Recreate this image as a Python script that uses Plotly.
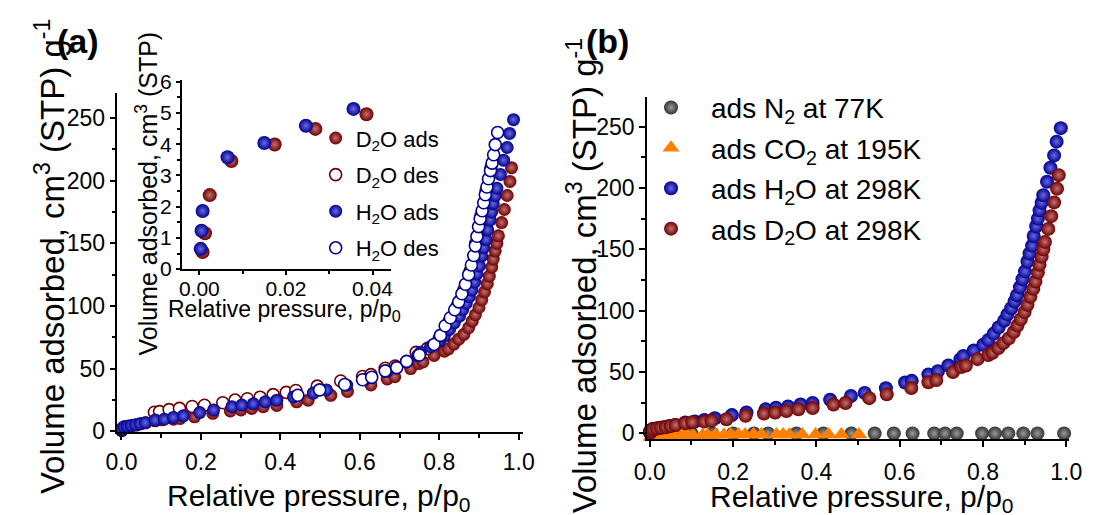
import plotly.graph_objects as go

FONT = "Liberation Sans, Arial, sans-serif"

# ---------------- data ----------------
h2o_ads_x = [0.0003, 0.0005, 0.00075, 0.0065, 0.015, 0.0246, 0.0356, 0.047, 0.06, 0.085, 0.108, 0.131,
             0.156, 0.197, 0.232, 0.278, 0.303, 0.332, 0.362, 0.391, 0.433, 0.483, 0.516, 0.567, 0.613,
             0.629, 0.669, 0.692, 0.717, 0.746, 0.753, 0.778, 0.801, 0.813, 0.826, 0.838, 0.851, 0.859,
             0.868, 0.876, 0.882, 0.889, 0.895, 0.901, 0.907, 0.912, 0.918, 0.922, 0.928, 0.932, 0.936,
             0.941, 0.945, 0.954, 0.962, 0.971, 0.977, 0.987]
h2o_ads_y = [0.65, 1.23, 1.86, 3.58, 4.04, 4.59, 5.13, 6.0, 6.8, 8.9, 9.6, 11.0,
             12.3, 14.9, 17.0, 19.6, 20.9, 21.9, 23.5, 24.8, 27.4, 30.5, 33.0, 36.8, 41.4,
             42.8, 48.0, 50.6, 55.3, 60.5, 63.0, 67.5, 72.2, 76.0, 81.3, 86.5, 91.8, 97.0,
             102.0, 107.4, 112.6, 119.0, 125.6, 132.0, 140.0, 146.5, 153.0, 160.8, 168.7, 175.0, 181.7,
             188.0, 194.0, 205.0, 216.4, 226.5, 237.7, 248.7]

d2o_ads_x = [0.00075, 0.0013, 0.0024, 0.0074, 0.0174, 0.0268, 0.0386, 0.05, 0.062, 0.085, 0.102, 0.131,
             0.148, 0.184, 0.23, 0.274, 0.301, 0.328, 0.357, 0.391, 0.441, 0.47, 0.527, 0.569, 0.628,
             0.669, 0.688, 0.728, 0.748, 0.759, 0.787, 0.813, 0.823, 0.837, 0.849, 0.862, 0.874, 0.883,
             0.891, 0.9, 0.907, 0.914, 0.921, 0.926, 0.932, 0.936, 0.941, 0.945, 0.949, 0.957, 0.964,
             0.971, 0.978, 0.982]
d2o_ads_y = [0.55, 1.15, 2.37, 3.46, 3.99, 4.49, 4.96, 6.0, 6.8, 8.3, 9.1, 9.6,
             10.2, 11.5, 14.3, 16.2, 17.0, 18.2, 19.6, 20.6, 23.5, 24.8, 28.7, 31.8, 37.0,
             41.7, 43.5, 50.0, 54.0, 55.3, 60.5, 63.9, 65.7, 69.6, 73.5, 77.4, 82.6, 87.9,
             93.0, 98.8, 104.8, 111.3, 117.8, 123.8, 131.0, 137.4, 144.0, 150.0, 156.0, 166.6, 177.0,
             188.2, 199.4, 210.4]

h2o_des_x = [0.444, 0.499, 0.562, 0.607, 0.63, 0.664, 0.693, 0.718, 0.75, 0.787, 0.803, 0.815, 0.828,
             0.839, 0.849, 0.857, 0.866, 0.874, 0.881, 0.887, 0.891, 0.895, 0.899, 0.903, 0.908, 0.912,
             0.916, 0.920, 0.924, 0.929, 0.933, 0.937, 0.941, 0.947]
h2o_des_y = [28.7, 33.0, 37.3, 41.1, 43.1, 48.2, 50.8, 55.8, 60.9, 69.3, 76.5, 84.2, 90.6,
             97.0, 103.3, 109.7, 117.3, 125.0, 132.7, 140.3, 148.0, 155.6, 163.3, 169.6, 176.0, 182.4,
             188.8, 195.0, 201.5, 208.0, 214.0, 220.7, 228.8, 238.5]

d2o_des_x = [0.083, 0.096, 0.12, 0.146, 0.178, 0.209, 0.255, 0.286, 0.317, 0.349, 0.382, 0.415, 0.439,
             0.493, 0.552, 0.607, 0.628, 0.664, 0.689, 0.742, 0.77, 0.80, 0.825, 0.845, 0.862, 0.878,
             0.892, 0.905, 0.918, 0.93]
d2o_des_y = [15.2, 15.7, 17.3, 18.3, 19.8, 20.8, 22.8, 24.9, 25.9, 27.2, 29.2, 31.0, 32.5,
             36.0, 40.1, 43.7, 45.2, 50.3, 52.0, 63.0, 66.0, 74.0, 88.0, 100.0, 113.0, 128.0,
             150.0, 172.0, 192.0, 210.0]

n2_x = [0.02, 0.05, 0.1, 0.15, 0.2, 0.25, 0.284, 0.352, 0.417, 0.484, 0.540, 0.586, 0.631, 0.683,
        0.709, 0.737, 0.798, 0.829, 0.861, 0.897, 0.931, 0.995]
n2_y = [0.0, 0.0, 0.0, 0.0, 0.0, 0.0, 0.0, 0.0, 0.0, 0.0, 0.0, 0.0, 0.0, 0.0,
        0.0, 0.0, 0.0, 0.0, 0.0, 0.0, 0.0, 0.0]

co2_x = [0.003, 0.01, 0.02, 0.03, 0.04, 0.05, 0.06, 0.07, 0.08, 0.09, 0.104, 0.127, 0.139, 0.158,
         0.178, 0.194, 0.213, 0.229, 0.249, 0.268, 0.304, 0.32, 0.335, 0.366, 0.398, 0.429, 0.46, 0.502]
co2_y = [-3.0, -2.8, -2.6, -2.4, -2.2, -2.0, -1.9, -1.8, -1.7, -1.6, -1.5, -1.4, -1.3, -1.2,
         -1.1, -1.0, -1.0, -1.0, -1.0, -1.0, -1.0, -1.0, -1.0, -1.0, -1.0, -1.0, -1.0, -1.0]

names_a = ["D<sub>2</sub>O ads", "D<sub>2</sub>O des", "H<sub>2</sub>O ads", "H<sub>2</sub>O des"]
names_b = ["ads N<sub>2</sub> at 77K", "ads CO<sub>2</sub> at 195K",
           "ads H<sub>2</sub>O at 298K", "ads D<sub>2</sub>O at 298K"]

RED, RED_HL = "#700000", "#c07070"
BLUE, BLUE_HL = "#000090", "#6a6ae0"
GRAY, GRAY_HL = "#333333", "#9a9a9a"
ORANGE = "#ff8000"


def ball(color, hl, size):
    return dict(symbol="circle", size=size, color=color,
                gradient=dict(type="radial", color=hl), line=dict(width=0))


def ring(color, size):
    return dict(symbol="circle", size=size, color="white", line=dict(width=1.6, color=color))


fig = go.Figure()

# ---------- panel (a) main ----------
fig.add_trace(go.Scatter(x=d2o_ads_x, y=d2o_ads_y, mode="markers", name=names_a[0],
                         marker=ball(RED, RED_HL, 13), xaxis="x", yaxis="y",
                         legend="legend", legendgroup="a1", cliponaxis=False))
fig.add_trace(go.Scatter(x=d2o_des_x, y=d2o_des_y, mode="markers", name=names_a[1],
                         marker=ring(RED, 12), xaxis="x", yaxis="y",
                         legend="legend", legendgroup="a2", cliponaxis=False))
fig.add_trace(go.Scatter(x=h2o_ads_x, y=h2o_ads_y, mode="markers", name=names_a[2],
                         marker=ball(BLUE, BLUE_HL, 13), xaxis="x", yaxis="y",
                         legend="legend", legendgroup="a3", cliponaxis=False))
fig.add_trace(go.Scatter(x=h2o_des_x, y=h2o_des_y, mode="markers", name=names_a[3],
                         marker=ring(BLUE, 12), xaxis="x", yaxis="y",
                         legend="legend", legendgroup="a4", cliponaxis=False))

# ---------- panel (a) inset ----------
fig.add_trace(go.Scatter(x=d2o_ads_x, y=d2o_ads_y, mode="markers", showlegend=False,
                         marker=ball(RED, RED_HL, 14), xaxis="x3", yaxis="y3", cliponaxis=True))
fig.add_trace(go.Scatter(x=h2o_ads_x, y=h2o_ads_y, mode="markers", showlegend=False,
                         marker=ball(BLUE, BLUE_HL, 14), xaxis="x3", yaxis="y3", cliponaxis=True))

# ---------- panel (b) ----------
fig.add_trace(go.Scatter(x=n2_x, y=n2_y, mode="markers", name=names_b[0],
                         marker=ball(GRAY, GRAY_HL, 14), xaxis="x2", yaxis="y2",
                         legend="legend2", legendgroup="b1", cliponaxis=False))
fig.add_trace(go.Scatter(x=co2_x, y=co2_y, mode="markers", name=names_b[1],
                         marker=dict(symbol="triangle-up", size=15, color=ORANGE, line=dict(width=0)),
                         xaxis="x2", yaxis="y2", legend="legend2", legendgroup="b2", cliponaxis=False))
fig.add_trace(go.Scatter(x=h2o_ads_x, y=h2o_ads_y, mode="markers", name=names_b[2],
                         marker=ball(BLUE, BLUE_HL, 14), xaxis="x2", yaxis="y2",
                         legend="legend2", legendgroup="b3", cliponaxis=False))
fig.add_trace(go.Scatter(x=d2o_ads_x, y=d2o_ads_y, mode="markers", name=names_b[3],
                         marker=ball(RED, RED_HL, 14), xaxis="x2", yaxis="y2",
                         legend="legend2", legendgroup="b4", cliponaxis=False))

W, H = 1099, 515


def px_x(p):
    return p / W


def px_y(p):
    return (H - p) / H


axis_common = dict(showline=True, linecolor="black", linewidth=1.6, ticks="outside",
                   ticklen=6, tickwidth=1.5, tickcolor="black", showgrid=False, zeroline=False,
                   tickfont=dict(family=FONT, size=23, color="black"))
inset_common = {**axis_common, "tickfont": dict(family=FONT, size=21, color="black"), "ticklen": 4}

fig.update_layout(
    width=W, height=H, margin=dict(l=0, r=0, t=0, b=0),
    paper_bgcolor="white", plot_bgcolor="rgba(0,0,0,0)",
    font=dict(family=FONT, color="black"),
    xaxis=dict(domain=[px_x(107), px_x(522)], range=[-0.01, 1.01], anchor="y",
               dtick=0.2, tickformat=".1f", ticklabelstandoff=3,
               minor=dict(ticks="outside", ticklen=4, dtick=0.1, tickcolor="black"),
               **axis_common),
    yaxis=dict(domain=[px_y(440.7), px_y(86.7)], range=[-0.5, 270], anchor="x",
               dtick=50, minor=dict(ticks="outside", ticklen=4, dtick=25, tickcolor="black"),
               **axis_common),
    xaxis2=dict(domain=[px_x(649.3), px_x(1081.7)], range=[-0.007, 1.007], anchor="y2",
                dtick=0.2, tickformat=".1f", ticklabelstandoff=5,
                minor=dict(ticks="outside", ticklen=4, dtick=0.1, tickcolor="black"),
                **axis_common),
    yaxis2=dict(domain=[px_y(448.3), px_y(90.7)], range=[-4.7, 274.2], anchor="x2",
                dtick=50, minor=dict(ticks="outside", ticklen=4, dtick=25, tickcolor="black"),
                **axis_common),
    xaxis3=dict(domain=[px_x(172.7), px_x(387.3)], range=[-0.0041, 0.0443], anchor="y3",
                dtick=0.02, tickformat=".2f", ticklabelstandoff=-4,
                minor=dict(ticks="outside", ticklen=3, dtick=0.01, tickcolor="black"),
                **inset_common),
    yaxis3=dict(domain=[px_y(270.7), px_y(73.3)], range=[0, 6.05], anchor="x3",
                dtick=1, minor=dict(ticks="outside", ticklen=3, dtick=0.5, tickcolor="black"),
                **inset_common),
    legend=dict(x=px_x(310), y=px_y(112), xanchor="left", yanchor="top",
                bgcolor="rgba(0,0,0,0)", borderwidth=0, tracegroupgap=5,
                font=dict(family=FONT, size=22, color="black"), itemwidth=30),
    legend2=dict(x=px_x(633), y=px_y(76), xanchor="left", yanchor="top",
                 bgcolor="rgba(0,0,0,0)", borderwidth=0, tracegroupgap=1,
                 font=dict(family=FONT, size=28, color="black"), itemwidth=70),
)

ann = []
# axis titles
ann.append(dict(text="Relative pressure, p/p<sub>0</sub>", x=px_x(313), y=px_y(509),
                font=dict(size=30)))
ann.append(dict(text="Relative pressure, p/p<sub>0</sub>", x=px_x(870), y=px_y(510),
                font=dict(size=30)))
ann.append(dict(text="Volume adsorbed, cm<sup>3</sup> (STP) g<sup>-1</sup>", x=px_x(38),
                y=px_y(258), textangle=-90, font=dict(size=33)))
ann.append(dict(text="Volume adsorbed, cm<sup>3</sup> (STP) g<sup>-1</sup>", x=px_x(583),
                y=px_y(278), textangle=-90, font=dict(size=33)))
# inset titles
ann.append(dict(text="Relative pressure, p/p<sub>0</sub>", x=px_x(278), y=px_y(314),
                font=dict(size=23)))
ann.append(dict(text="Volume adsorbed, cm<sup>3</sup> (STP)", x=px_x(137), y=px_y(192),
                textangle=-90, font=dict(size=25)))
# panel labels
ann.append(dict(text="<b>(a)</b>", x=px_x(67), y=px_y(32), font=dict(size=34)))
ann.append(dict(text="<b>(b)</b>", x=px_x(609), y=px_y(32), font=dict(size=34)))

for a in ann:
    a.update(xref="paper", yref="paper", showarrow=False, xanchor="center", yanchor="middle")
    a["font"] = dict(family=FONT, color="black", **a["font"])
fig.update_layout(annotations=ann)

fig.write_html("out.html")
